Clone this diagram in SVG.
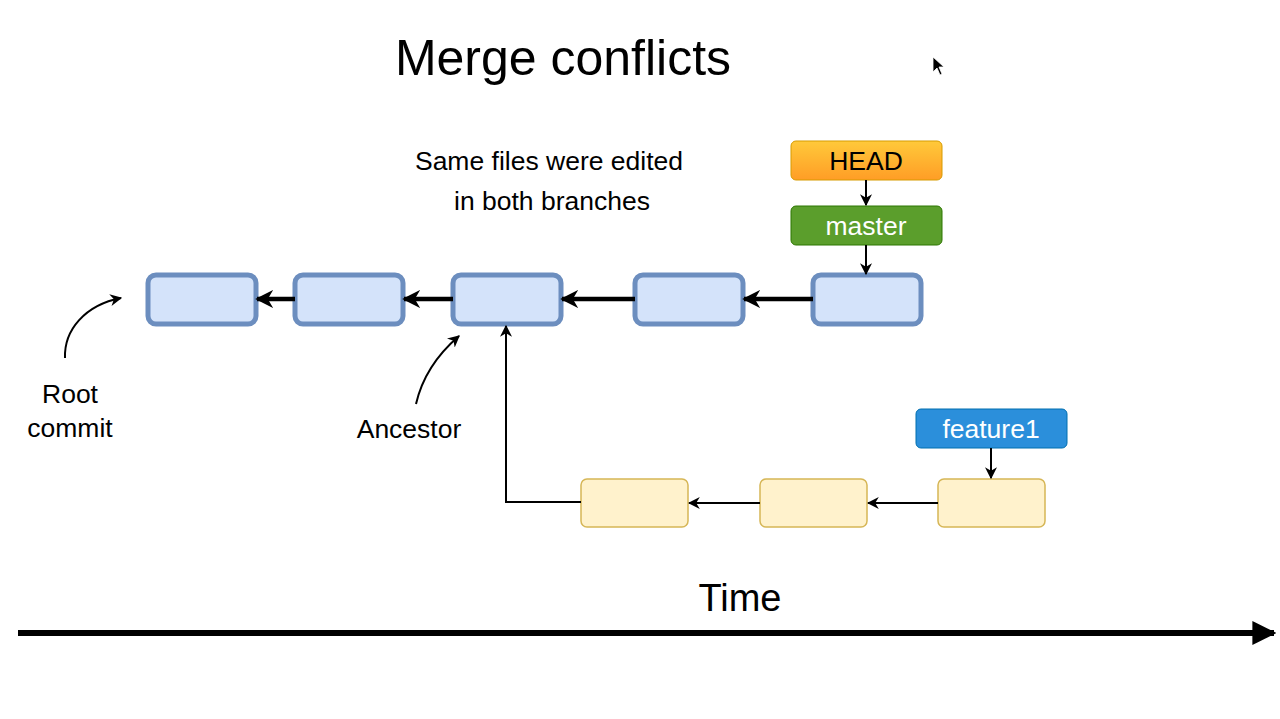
<svg xmlns="http://www.w3.org/2000/svg" width="1280" height="719" viewBox="0 0 1280 719">
<defs>
<style>
text{font-family:"Liberation Sans",Arial,sans-serif;fill:#000}
.blue{fill:#d4e3fa;stroke:#6c8ebf;stroke-width:5}
.yel{fill:#fff2cc;stroke:#d6b656;stroke-width:1.5}
.thick{stroke:#000;stroke-width:4.5;fill:none}
.thin{stroke:#000;stroke-width:2;fill:none}
.lbl{font-size:26.5px;text-anchor:middle}
</style>
<linearGradient id="og" x1="0" y1="0" x2="0" y2="1"><stop offset="0" stop-color="#ffc93a"/><stop offset="1" stop-color="#ff9d26"/></linearGradient>
<marker id="ah" viewBox="0 0 10 10" refX="9" refY="5" markerWidth="4" markerHeight="4" orient="auto" markerUnits="strokeWidth"><path d="M0,0 L10,5 L0,10 L3,5 Z" fill="#000"/></marker>
<marker id="ahs" viewBox="0 0 10 10" refX="9" refY="5" markerWidth="6" markerHeight="6" orient="auto" markerUnits="strokeWidth"><path d="M0,0 L10,5 L0,10 L3,5 Z" fill="#000"/></marker>
<marker id="aht" viewBox="0 0 10 10" refX="9" refY="5" markerWidth="4" markerHeight="4" orient="auto" markerUnits="strokeWidth"><path d="M0,0 L10,5 L0,10 Z" fill="#000"/></marker>
</defs>
<rect width="1280" height="719" fill="#fff"/>
<text x="563" y="75" style="font-size:50px;text-anchor:middle">Merge conflicts</text>
<text x="549" y="170" class="lbl">Same files were edited</text>
<text x="552" y="210" class="lbl">in both branches</text>
<text x="70" y="403" class="lbl">Root</text>
<text x="70" y="437" class="lbl">commit</text>
<text x="409" y="438" class="lbl">Ancestor</text>
<text x="740" y="611" style="font-size:38px;text-anchor:middle">Time</text>

<g id="c1"><rect class="blue" x="148" y="275" width="108" height="49" rx="8"/></g>
<g id="c2"><rect class="blue" x="295" y="275" width="108" height="49" rx="8"/></g>
<g id="c3"><rect class="blue" x="453" y="275" width="108" height="49" rx="8"/></g>
<g id="c4"><rect class="blue" x="635" y="275" width="108" height="49" rx="8"/></g>
<g id="c5"><rect class="blue" x="813" y="275" width="108" height="49" rx="8"/></g>
<g id="f1"><rect class="yel" x="581" y="479" width="107" height="48" rx="6"/></g>
<g id="f2"><rect class="yel" x="760" y="479" width="107" height="48" rx="6"/></g>
<g id="f3"><rect class="yel" x="938" y="479" width="107" height="48" rx="6"/></g>
<g id="head"><rect x="791" y="141" width="151" height="39" rx="5" fill="url(#og)" stroke="#d79b00" stroke-width="1"/><text x="866" y="170" class="lbl">HEAD</text></g>
<g id="master"><rect x="791" y="206" width="151" height="39" rx="5" fill="#5b9e2c" stroke="#2d7600" stroke-width="1"/><text x="866" y="235" class="lbl" style="fill:#fff">master</text></g>
<g id="feature1"><rect x="916" y="409" width="151" height="39" rx="5" fill="#2b8fdb" stroke="#006eaf" stroke-width="1"/><text x="991" y="438" class="lbl" style="fill:#fff">feature1</text></g>

<g id="connectors">
<line class="thick" x1="813" y1="299" x2="744" y2="299" marker-end="url(#ah)"/>
<line class="thick" x1="635" y1="299" x2="562" y2="299" marker-end="url(#ah)"/>
<line class="thick" x1="453" y1="299" x2="404" y2="299" marker-end="url(#ah)"/>
<line class="thick" x1="295" y1="299" x2="257" y2="299" marker-end="url(#ah)"/>
<line class="thin" x1="866" y1="180" x2="866" y2="205" marker-end="url(#ahs)"/>
<line class="thin" x1="866" y1="245" x2="866" y2="274" marker-end="url(#ahs)"/>
<line class="thin" x1="991" y1="448" x2="991" y2="478" marker-end="url(#ahs)"/>
<line class="thin" x1="938" y1="503" x2="868" y2="503" marker-end="url(#ahs)"/>
<line class="thin" x1="760" y1="503" x2="689" y2="503" marker-end="url(#ahs)"/>
<polyline class="thin" points="581,502 506,502 506,326" marker-end="url(#ahs)"/>
<path class="thin" d="M65,358 C64,330 85,305 121,298" marker-end="url(#ahs)"/>
<path class="thin" d="M416,404 C422,378 438,354 459,336" marker-end="url(#ahs)"/>
<line x1="18" y1="633" x2="1274" y2="633" stroke="#000" stroke-width="6" marker-end="url(#aht)"/>
</g>
<path d="M933,57 L933,72 L937,68 L940,75 L942,74 L939,67 L944,67 Z" fill="#000" stroke="#fff" stroke-width="0.8"/>
</svg>
